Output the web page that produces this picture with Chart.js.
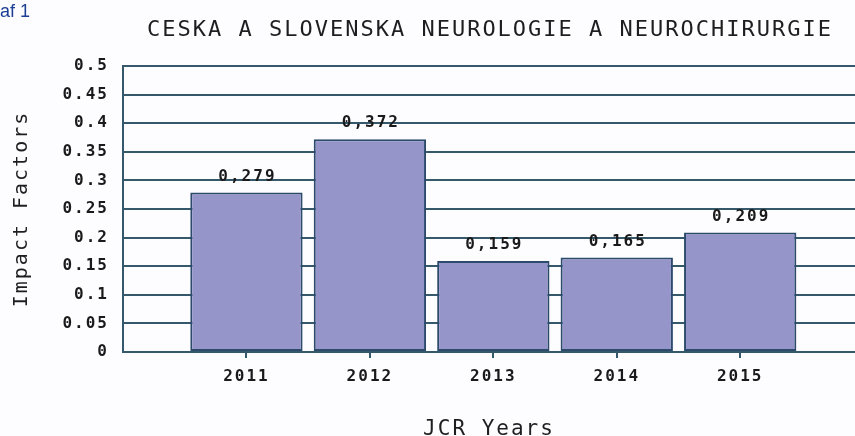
<!DOCTYPE html>
<html>
<head>
<meta charset="utf-8">
<script src="https://cdn.jsdelivr.net/npm/chart.js@4/dist/chart.umd.min.js"></script>
<style>
    body { margin: 0; background: #fdfdff; }
    #wrap { width: 855px; height: 436px; position: relative; }
</style>
</head>
<body>
<div id="wrap"><canvas id="chart"></canvas></div>
<script>
// values
const years = [2011, 2012, 2013, 2014, 2015]
const impactFactors = [0.279, 0.372, 0.159, 0.165, 0.209]
const yTicks = [0, 0.05, 0.1, 0.15, 0.2, 0.25, 0.3, 0.35, 0.4, 0.45, 0.5]
const chartTitle = 'CESKA A SLOVENSKA NEUROLOGIE A NEUROCHIRURGIE'
const yTitle = 'Impact Factors'
const xTitle = 'JCR Years'
const cornerText = 'af 1'

const mono = '"DejaVu Sans Mono", monospace'
const gridColor = '#35586a'

// the original font is drawn wide, so spread the letters a bit
const spacing = {
    id: 'spacing',
    beforeUpdate(chart){ chart.ctx.letterSpacing = '2px' },
    beforeDraw(chart){ chart.ctx.letterSpacing = '2px' }
}

const extraText = {
    id: 'extraText',
    afterDatasetsDraw(chart){
        const ctx = chart.ctx
        const bars = chart.getDatasetMeta(0).data
        ctx.save()
        ctx.font = 'bold 16px ' + mono
        ctx.fillStyle = '#1a1a1a'
        ctx.textAlign = 'center'
        ctx.textBaseline = 'bottom'
        bars.forEach((bar, i) => {
            const text = impactFactors[i].toFixed(3).replace('.', ',')
            ctx.fillText(text, bar.x + 1, bar.y - 8)
        })
        ctx.restore()
    },
    afterDraw(chart){
        const ctx = chart.ctx
        const area = chart.chartArea
        ctx.save()
        // title sits over the plot area, not the whole canvas
        ctx.font = '22px ' + mono
        ctx.fillStyle = '#1e1e1e'
        ctx.textAlign = 'center'
        ctx.textBaseline = 'middle'
        ctx.fillText(chartTitle, (area.left + area.right) / 2 + 1, 30)
        ctx.letterSpacing = '0px'
        ctx.font = '18px "Liberation Sans", Arial, sans-serif'
        ctx.fillStyle = '#1d3f93'
        ctx.textAlign = 'left'
        ctx.textBaseline = 'alphabetic'
        ctx.fillText(cornerText, 0, 17)
        ctx.restore()
    }
}

new Chart(document.getElementById('chart'), {
    type: 'bar',
    data: {
        datasets: [{
            data: years.map((y, i) => ({x: y, y: impactFactors[i]})),
            backgroundColor: '#9595c9',
            borderColor: '#2c4b6c',
            borderWidth: 2,
            borderSkipped: false,
            barPercentage: 0.91,
            categoryPercentage: 1
        }]
    },
    options: {
        responsive: true,
        maintainAspectRatio: false,
        animation: false,
        layout: { padding: { left: 0, right: 0, top: 66, bottom: 0 } },
        plugins: {
            legend: { display: false },
            tooltip: { enabled: false },
            title: { display: false }
        },
        scales: {
            x: {
                type: 'linear',
                min: 2010,
                max: 2015.93,
                offset: false,
                afterBuildTicks: scale => { scale.ticks = years.map(v => ({value: v})) },
                afterFit: scale => { scale.height = 84 },
                ticks: {
                    color: '#1a1a1a',
                    font: { family: mono, size: 16, weight: 'bold' },
                    padding: 9,
                    maxRotation: 0,
                    callback: v => String(v)
                },
                grid: { drawOnChartArea: false, drawTicks: true, tickLength: 6, color: gridColor, lineWidth: 2, offset: false },
                border: { display: true, color: gridColor, width: 2 },
                title: {
                    display: true,
                    text: xTitle,
                    color: '#1e1e1e',
                    font: { family: mono, size: 21, weight: 'normal' },
                    padding: { top: 0, bottom: -6 }
                }
            },
            y: {
                min: 0,
                max: 0.5,
                afterBuildTicks: scale => { scale.ticks = yTicks.map(v => ({value: v})) },
                afterFit: scale => { scale.width = 123 },
                ticks: {
                    color: '#1a1a1a',
                    font: { family: mono, size: 16, weight: 'bold' },
                    padding: 14,
                    callback: v => String(Number(v.toFixed(2)))
                },
                grid: { drawTicks: false, color: gridColor, lineWidth: 2 },
                border: { display: true, color: gridColor, width: 2 },
                title: {
                    display: true,
                    text: yTitle,
                    color: '#1e1e1e',
                    font: { family: mono, size: 20, weight: 'normal' },
                    padding: { top: 10, bottom: 0 }
                }
            }
        }
    },
    plugins: [spacing, extraText]
})
</script>
</body>
</html>
